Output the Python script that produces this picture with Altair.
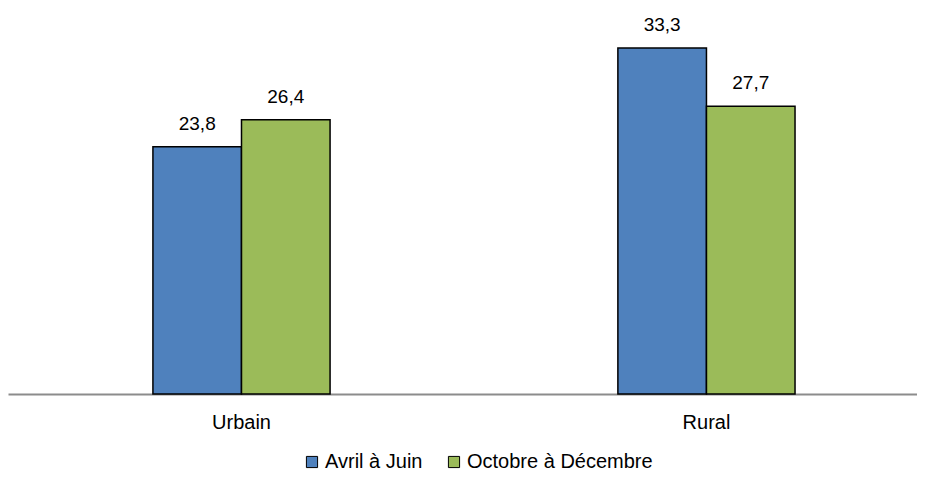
import altair as alt
import pandas as pd

regions = ["Urbain", "Rural"]
periods = ["Avril à Juin", "Octobre à Décembre"]
values_avril = [23.8, 33.3]
values_octobre = [26.4, 27.7]
colors = ["#4F81BD", "#9BBB59"]

rows = []
for i, r in enumerate(regions):
    rows.append({"region": r, "period": periods[0], "value": values_avril[i]})
    rows.append({"region": r, "period": periods[1], "value": values_octobre[i]})
df = pd.DataFrame(rows)
df["label"] = df["value"].map(lambda v: f"{v:.1f}".replace(".", ","))

FONT = "Liberation Sans"

x = alt.X("region:N", sort=regions, title=None,
          scale=alt.Scale(paddingInner=0.619, paddingOuter=0.287, align=0.543),
          axis=alt.Axis(labelAngle=0, ticks=False, labelPadding=18, labelFontSize=20,
                        labelFont=FONT, labelColor="#000000", domainColor="#8c8c8c",
                        domainWidth=2))
xo = alt.XOffset("period:N", sort=periods, scale=alt.Scale(paddingInner=0, paddingOuter=0))
y = alt.Y("value:Q", scale=alt.Scale(domain=[0, 37.15], nice=False, zero=True),
          axis=None)

bars = alt.Chart(df).mark_bar(stroke="#000000", strokeWidth=1.5).encode(
    x=x, xOffset=xo, y=y,
    color=alt.Color("period:N", sort=periods,
                    scale=alt.Scale(domain=periods, range=colors),
                    legend=alt.Legend(title=None, orient="none", direction="horizontal",
                                      legendX=294, legendY=444, symbolType="square",
                                      symbolSize=125, symbolStrokeColor="#000000",
                                      symbolStrokeWidth=1, symbolOpacity=1,
                                      labelFontSize=20, labelFont=FONT, labelLimit=500,
                                      labelColor="#000000", columnPadding=21,
                                      labelOffset=3)),
)

text = alt.Chart(df).mark_text(baseline="alphabetic", dy=-17, fontSize=19, font=FONT,
                               color="#000000").encode(
    x=x, xOffset=xo, y=y, text="label:N"
)

chart = alt.layer(bars, text).properties(
    width=909, height=386,
    background="#ffffff",
    autosize=alt.AutoSizeParams(type="none"),
    padding={"left": 0, "top": 0, "right": 0, "bottom": 80},
).configure_view(stroke=None)

chart.save("out.html", embed_options={"renderer": "svg", "actions": False})
